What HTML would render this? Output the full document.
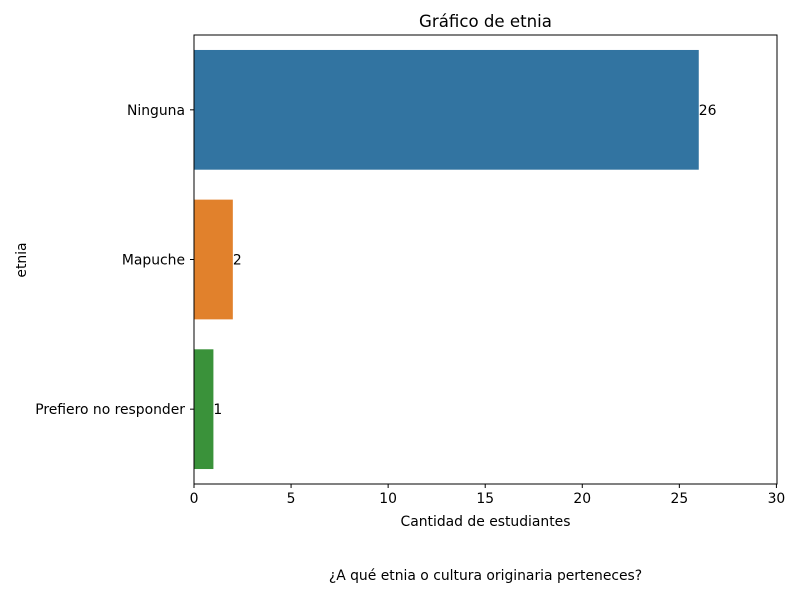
<!DOCTYPE html>
<html><head><meta charset="utf-8"><style>
body{margin:0;background:#fff;font-family:"Liberation Sans","DejaVu Sans",sans-serif;}
text{font-family:"DejaVu Sans","Liberation Sans",sans-serif;}
</style></head><body>
<svg id="chart" width="800" height="600">
<text x="485.5" y="27" font-size="16.6" text-anchor="middle">Gráfico de etnia</text>
<g id="bars"></g>
<g id="axes"></g>
<text x="485.5" y="526" font-size="13.9" text-anchor="middle">Cantidad de estudiantes</text>
<text x="26" y="260" font-size="13.9" text-anchor="middle" transform="rotate(-90 26 260)">etnia</text>
<text x="485.5" y="580" font-size="13.9" text-anchor="middle">¿A qué etnia o cultura originaria perteneces?</text>
</svg>
<script>
const categories=["Ninguna","Mapuche","Prefiero no responder"];
const values=[26,2,1];
const xTicks=[0,5,10,15,20,25,30];
const colors=["#3274a1","#e1812c","#3a923a"];
const L=194,R=777,T=35,B=484,XMAX=30.03;
const ns="http://www.w3.org/2000/svg";
const x=v=>L+v/XMAX*(R-L);
const band=(B-T)/categories.length;
const yc=i=>T+band*(i+0.5);
const bars=document.getElementById('bars'),axes=document.getElementById('axes');
function mk(tag,at,parent){const e=document.createElementNS(ns,tag);for(const k in at)e.setAttribute(k,at[k]);parent.appendChild(e);return e;}
categories.forEach((c,i)=>{
 const r=mk('rect',{x:x(0),y:yc(i)-band*0.4,width:x(values[i])-x(0),height:band*0.8,fill:colors[i]},bars);
 
 
 const t=mk('text',{x:x(values[i]),y:yc(i)+5,'font-size':13.9},bars);t.textContent=values[i];
 
 
 mk('line',{x1:L-4,x2:L,y1:yc(i),y2:yc(i),stroke:'#000'},axes);
 const yl=mk('text',{x:L-9,y:yc(i)+5,'font-size':13.9,'text-anchor':'end'},axes);yl.textContent=c;
 
 
});
xTicks.forEach(v=>{
 mk('line',{x1:x(v),x2:x(v),y1:B,y2:B+4,stroke:'#000'},axes);
 const t=mk('text',{x:x(v),y:B+19,'font-size':13.9,'text-anchor':'middle'},axes);t.textContent=v;
 
 
});
const f=mk('rect',{x:L,y:T,width:R-L,height:B-T,fill:'none',stroke:'#000','stroke-width':1},axes);


</script>
</body></html>
